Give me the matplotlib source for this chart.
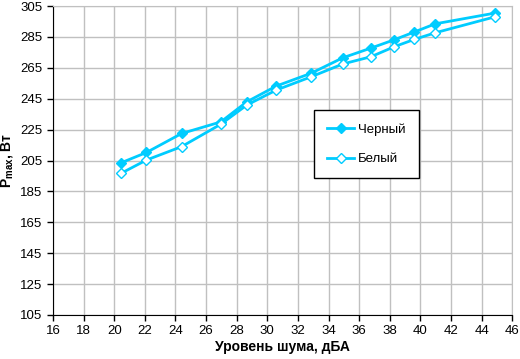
import matplotlib.pyplot as plt

plt.rcParams['font.family'] = ['Liberation Sans', 'DejaVu Sans']

# Noise level (dBA) and max power (W)
noise_black = [20.44, 22.1, 24.4, 26.96, 28.66, 30.58, 32.86, 34.93, 36.77, 38.3, 39.6, 40.97, 44.9]
power_black = [203.5, 210.2, 222.5, 230.0, 243.0, 253.2, 261.5, 271.5, 277.8, 283.2, 288.2, 293.5, 300.5]

noise_white = [20.44, 22.1, 24.4, 26.96, 28.66, 30.58, 32.86, 34.93, 36.77, 38.3, 39.6, 40.97, 44.9]
power_white = [196.7, 205.3, 214.0, 228.5, 240.9, 250.6, 259.2, 267.5, 272.2, 278.7, 283.4, 287.7, 298.1]

cyan = "#00CCFF"

fig = plt.figure(figsize=(5.2, 3.59), dpi=100)
ax = fig.add_axes([0.102, 0.1226, 0.883, 0.8605])

ax.plot(noise_black, power_black, color=cyan, lw=2, marker="D", ms=5.5,
        mfc=cyan, mec=cyan, label="Черный")
ax.plot(noise_white, power_white, color=cyan, lw=2, marker="D", ms=5.5,
        mfc="white", mec=cyan, mew=1, label="Белый")

ax.set_xlim(16, 46)
ax.set_ylim(105, 305)
ax.set_xticks(range(16, 47, 2))
ax.set_yticks(range(105, 306, 20))
ax.grid(True, color="#c0c0c0", lw=1)
ax.set_axisbelow(True)
ax.tick_params(direction="out", length=4, labelsize=9.5, width=1)

for s in ["top", "right"]:
    ax.spines[s].set_color("#c0c0c0")
for s in ["left", "bottom"]:
    ax.spines[s].set_color("black")

ax.set_xlabel("Уровень шума, дБА", fontsize=10, fontweight="bold", labelpad=2)
ax.set_ylabel(r"P$_{\mathregular{max}}$, Вт", fontsize=10, fontweight="bold", labelpad=4)

leg = ax.legend(loc="upper left", bbox_to_anchor=(0.569, 0.663), fancybox=False,
                edgecolor="black", framealpha=1, fontsize=9.5, labelspacing=1.3,
                borderpad=1.0, handlelength=2.0, handletextpad=0.3, borderaxespad=0)
leg.get_frame().set_linewidth(1)

plt.savefig("out.png")
